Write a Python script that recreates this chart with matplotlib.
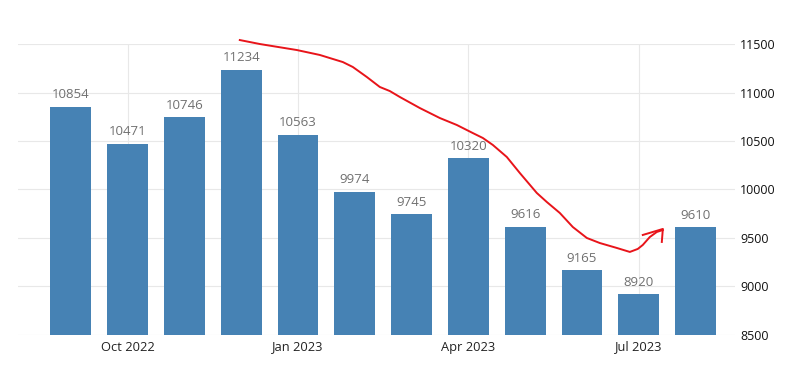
import matplotlib.pyplot as plt
import numpy as np

plt.rcParams['font.family'] = ['Open Sans', 'DejaVu Sans']

# Monthly values, Sep 2022 .. Aug 2023
months = ['Sep 2022', 'Oct 2022', 'Nov 2022', 'Dec 2022', 'Jan 2023', 'Feb 2023',
          'Mar 2023', 'Apr 2023', 'May 2023', 'Jun 2023', 'Jul 2023', 'Aug 2023']
values = [10854, 10471, 10746, 11234, 10563, 9974, 9745, 10320, 9616, 9165, 8920, 9610]
tick_months = ['Oct 2022', 'Jan 2023', 'Apr 2023', 'Jul 2023']
y_ticks = [8500, 9000, 9500, 10000, 10500, 11000, 11500]

# hand-drawn red trend line (bar index, value)
trend_x = [2.975, 3.327, 3.979, 4.384, 4.789, 4.965, 5.211, 5.440, 5.616, 5.792,
           6.144, 6.496, 6.796, 7.077, 7.254, 7.430, 7.676, 7.905, 8.204, 8.380,
           8.609, 8.838, 9.085, 9.313, 9.613, 9.842, 9.982, 10.070, 10.194, 10.317, 10.423]
trend_y = [11541, 11500, 11438, 11387, 11314, 11263, 11160, 11057, 11015, 10954,
           10840, 10737, 10665, 10582, 10531, 10459, 10335, 10170, 9964, 9871,
           9758, 9613, 9500, 9448, 9397, 9356, 9387, 9428, 9510, 9562, 9582]
head_x = [10.07, 10.423, 10.405]
head_y = [9531, 9593, 9459]

fig = plt.figure(figsize=(8, 3.73), dpi=100)
ax = fig.add_axes([0.0225, 0.102, 0.896, 0.780])

x = np.arange(len(values))
ax.bar(x, values, width=0.72, color='#4682b4', zorder=2)
for xi, v in zip(x, values):
    ax.annotate(str(v), (xi, v), xytext=(0, 4), textcoords='offset points',
                ha='center', va='bottom', fontsize=9.5, color='#707070')

ax.set_xlim(-0.93, 11.69)
ax.set_ylim(8500, 11500)
ax.set_xticks([months.index(m) for m in tick_months])
ax.set_xticklabels(tick_months, fontsize=9.3, color='#222222')
ax.set_yticks(y_ticks)
ax.set_yticklabels([str(t) for t in y_ticks], fontsize=9, color='#111111')
ax.yaxis.tick_right()
ax.tick_params(axis='both', length=0)
ax.tick_params(axis='x', pad=4)
ax.tick_params(axis='y', pad=4)
ax.grid(True, color='#e8e8e8', linewidth=0.8, zorder=0)
for s in ax.spines.values():
    s.set_visible(False)
ax.set_axisbelow(True)

ax.plot(trend_x, trend_y, color='#e8141a', linewidth=1.4, clip_on=False, zorder=3)
ax.plot(head_x, head_y, color='#e8141a', linewidth=1.4, clip_on=False, zorder=3)

plt.savefig('out.png', dpi=100, facecolor='white')
